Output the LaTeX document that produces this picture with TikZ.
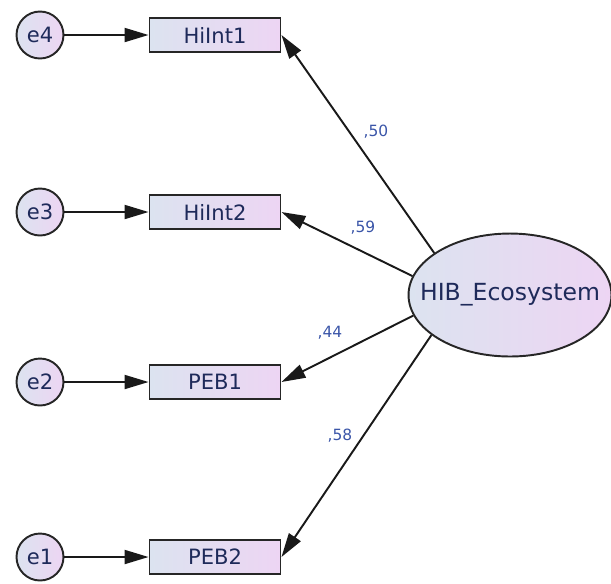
\documentclass[tikz,border=0pt]{standalone}
\usepackage{fontspec}
\setmainfont{DejaVu Sans}
\usetikzlibrary{arrows.meta,shapes.geometric}
\definecolor{fillL}{HTML}{DCE3F0}
\definecolor{fillR}{HTML}{EDD5F3}
\definecolor{txt}{HTML}{1E2A5A}
\definecolor{lbl}{HTML}{3A55A8}
\tikzset{
  shaded/.style={draw=black!85, line width=1.1pt, left color=fillL, right color=fillR,
    text=txt, inner sep=0pt},
  obs/.style={shaded, rectangle, minimum width=2.62cm, minimum height=0.68cm,
    font=\fontsize{12}{14}\selectfont},
  err/.style={shaded, circle, minimum size=0.94cm, font=\fontsize{12}{14}\selectfont},
  lat/.style={shaded, ellipse, minimum width=4.06cm, minimum height=2.46cm},
  lattext/.style={text=txt, inner sep=0pt, font=\fontsize{13.4}{16}\selectfont},
  path/.style={draw=black!90, line width=1.1pt, -{Triangle[length=0.48cm,width=0.28cm]}},
  coef/.style={text=lbl, font=\fontsize{8.8}{10}\selectfont, inner sep=0pt}
}
\begin{document}
\begin{tikzpicture}[x=0.02cm, y=-0.02cm]
\useasboundingbox (0,0) rectangle (611,583);
% latent factor (label keeps the ellipse at its own size)
\node[lat, label={[lattext]center:HIB\_Ecosystem}] (eco) at (510,295) {};
% observed indicators
\node[obs] (h1) at (215,35) {HiInt1};
\node[obs] (h2) at (215,212) {HiInt2};
\node[obs] (p1) at (215,382) {PEB1};
\node[obs] (p2) at (215,557) {PEB2};
% error terms
\node[err] (e4) at (40,35) {e4};
\node[err] (e3) at (40,212) {e3};
\node[err] (e2) at (40,382) {e2};
\node[err] (e1) at (40,557) {e1};
% error paths
\draw[path] (e4) -- (h1);
\draw[path] (e3) -- (h2);
\draw[path] (e2) -- (p1);
\draw[path] (e1) -- (p2);
% loadings
\draw[path] (eco.151) -- (h1.east);
\draw[path] (eco.169) -- (h2.east);
\draw[path] (eco.192) -- (p1.east);
\draw[path] (eco.207) -- (p2.east);
% standardized coefficients
\node[coef] (c1) at (376,132) {,50};
\node[coef] (c2) at (363,228) {,59};
\node[coef] (c3) at (330,333) {,44};
\node[coef] (c4) at (340,436) {,58};
\end{tikzpicture}
\end{document}
